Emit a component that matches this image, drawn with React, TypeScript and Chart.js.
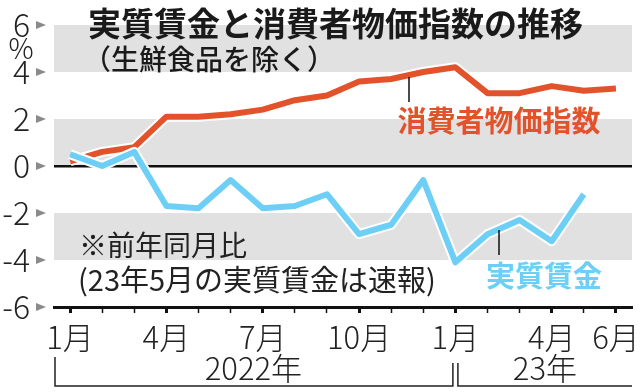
import React, { useEffect, useRef } from 'react';
import { Chart, registerables } from 'chart.js';
Chart.register(...registerables);

// ---- data ----
const categories = [
  '2022-01', '2022-02', '2022-03', '2022-04', '2022-05', '2022-06',
  '2022-07', '2022-08', '2022-09', '2022-10', '2022-11', '2022-12',
  '2023-01', '2023-02', '2023-03', '2023-04', '2023-05', '2023-06',
];
const xTickLabels = ['1月', '', '', '4月', '', '', '7月', '', '', '10月', '', '', '1月', '', '', '4月', '', '6月'];
const cpi = [0.2, 0.6, 0.8, 2.1, 2.1, 2.2, 2.4, 2.8, 3.0, 3.6, 3.7, 4.0, 4.2, 3.1, 3.1, 3.4, 3.2, 3.3];
const realWages = [0.5, 0.0, 0.6, -1.7, -1.8, -0.6, -1.8, -1.7, -1.2, -2.9, -2.5, -0.6, -4.1, -2.9, -2.3, -3.2, -1.2, null];
const yTicks = [-6, -4, -2, 0, 2, 4, 6];
const bands = [[4, 6], [0, 2], [-4, -2]];
const yearLabels = ['2022年', '23年'];

const RED = '#e2532b';
const BLUE = '#6dcff6';
const JP = "'Noto Sans CJK JP', 'Noto Sans', sans-serif";
const NARROW = "'Liberation Sans Narrow', 'Noto Sans CJK JP', sans-serif";

const decor = {
  id: 'decor',
  beforeDraw(chart: any) {
    const { ctx, chartArea: a, scales } = chart;
    const y = scales.y;
    ctx.save();
    ctx.fillStyle = '#e1e1e1';
    bands.forEach(([lo, hi]) => {
      const t = y.getPixelForValue(hi);
      const b = y.getPixelForValue(lo);
      ctx.fillRect(a.left, t, a.right - a.left, b - t);
    });
    ctx.restore();
  },
  afterDraw(chart: any) {
    const { ctx, chartArea: a, scales } = chart;
    const x = scales.x;
    const y = scales.y;
    ctx.save();
    // triangles at y ticks
    ctx.fillStyle = '#8a8a8a';
    yTicks.forEach((v) => {
      const py = y.getPixelForValue(v);
      ctx.beginPath();
      ctx.moveTo(36, py - 4);
      ctx.lineTo(46, py);
      ctx.lineTo(36, py + 4);
      ctx.closePath();
      ctx.fill();
    });
    // % unit
    ctx.fillStyle = '#222';
    ctx.font = `300 28px ${NARROW}`;
    ctx.textAlign = 'center';
    ctx.textBaseline = 'middle';
    ctx.fillText('%', 21, 48);

    // year brackets
    const jan23 = x.getPixelForValue(12);
    const sepL = jan23 - 2.5;
    const sepR = jan23 + 2.5;
    const by = 386;
    ctx.strokeStyle = '#222';
    ctx.lineWidth = 1.5;
    ctx.beginPath();
    ctx.moveTo(a.left + 1, 357);
    ctx.lineTo(a.left + 1, by);
    ctx.lineTo(sepL, by);
    ctx.lineTo(sepL, 363);
    ctx.moveTo(sepR, 363);
    ctx.lineTo(sepR, by);
    ctx.lineTo(a.right, by);
    ctx.stroke();
    ctx.font = `300 31px ${NARROW}`;
    ctx.fillStyle = '#222';
    ctx.fillText(yearLabels[0], (a.left + sepL) / 2, 368);
    ctx.fillText(yearLabels[1], (sepR + a.right) / 2, 368);

    // title
    ctx.textAlign = 'left';
    ctx.fillStyle = '#1a1a1a';
    ctx.font = `bold 33px ${JP}`;
    ctx.fillText('実質賃金と消費者物価指数の推移', 88, 23);
    ctx.font = `500 28px ${JP}`;
    ctx.fillText('（生鮮食品を除く）', 83, 59);

    // notes
    ctx.font = `400 28px ${JP}`;
    ctx.fillStyle = '#222';
    ctx.fillText('※前年同月比', 79, 245);
    ctx.font = `400 29px ${JP}`;
    ctx.fillText('(23年5月の実質賃金は速報)', 78, 280);

    // series labels + leaders
    ctx.strokeStyle = '#111';
    ctx.lineWidth = 1.5;
    ctx.beginPath();
    ctx.moveTo(409, 77);
    ctx.lineTo(409, 102);
    ctx.moveTo(499, 230);
    ctx.lineTo(499, 255);
    ctx.stroke();
    ctx.textAlign = 'center';
    ctx.font = `bold 29px ${JP}`;
    ctx.fillStyle = RED;
    ctx.fillText('消費者物価指数', 499, 121);
    ctx.fillStyle = BLUE;
    ctx.fillText('実質賃金', 544, 276);
    ctx.restore();
  },
};

export default function App() {
  const ref = useRef<HTMLCanvasElement>(null);
  useEffect(() => {
    if (!ref.current) return;
    const chart = new Chart(ref.current, {
      type: 'line',
      data: {
        labels: categories,
        datasets: [
          { data: realWages, borderColor: BLUE, borderWidth: 6, pointRadius: 0, order: 0, borderJoinStyle: 'round', borderCapStyle: 'butt' },
          { data: realWages, borderColor: '#ffffff', borderWidth: 10, pointRadius: 0, order: 1, borderJoinStyle: 'round', borderCapStyle: 'butt' },
          { data: cpi, borderColor: RED, borderWidth: 6, pointRadius: 0, order: 2, borderJoinStyle: 'round', borderCapStyle: 'butt' },
          { data: cpi, borderColor: '#ffffff', borderWidth: 10, pointRadius: 0, order: 3, borderJoinStyle: 'round', borderCapStyle: 'butt' },
        ],
      },
      options: {
        animation: false,
        responsive: false,
        maintainAspectRatio: false,
        spanGaps: false,
        layout: { padding: { top: 25, right: 8, left: 0, bottom: 0 } },
        plugins: { legend: { display: false }, tooltip: { enabled: false }, title: { display: false } },
        scales: {
          x: {
            type: 'category',
            offset: true,
            grid: {
              display: true,
              drawOnChartArea: false,
              offset: false,
              tickLength: 6,
              tickColor: '#111',
              tickWidth: (c: any) => (xTickLabels[c.index] ? 3 : 1.5),
            },
            border: { display: true, color: '#111', width: 3 },
            ticks: {
              autoSkip: false,
              maxRotation: 0,
              padding: 6,
              color: '#222',
              font: { family: NARROW, size: 31, weight: '300' },
              callback: (_v: any, i: number) => xTickLabels[i],
            },
            afterFit: (s: any) => {
              s.height = 85;
              s.paddingLeft = 0;
              s.paddingRight = 0;
            },
          },
          y: {
            min: -6,
            max: 6,
            afterBuildTicks: (s: any) => {
              s.ticks = yTicks.map((v) => ({ value: v }));
            },
            grid: {
              drawTicks: false,
              color: (c: any) => (c.tick && c.tick.value === 0 ? '#111' : 'rgba(0,0,0,0)'),
              lineWidth: 2.5,
            },
            border: { display: false },
            ticks: {
              padding: 24,
              color: '#222',
              font: { family: NARROW, size: 32, weight: '300' },
              callback: (v: any) => String(v),
            },
            afterFit: (s: any) => {
              s.width = 54;
              s.paddingTop = 0;
              s.paddingBottom = 0;
            },
          },
        },
      },
      plugins: [decor],
    });
    return () => chart.destroy();
  }, []);
  return (
    <div style={{ position: 'absolute', left: 0, top: 0, width: 640, height: 392, background: '#fff' }}>
      <canvas ref={ref} width={640} height={392} />
    </div>
  );
}
